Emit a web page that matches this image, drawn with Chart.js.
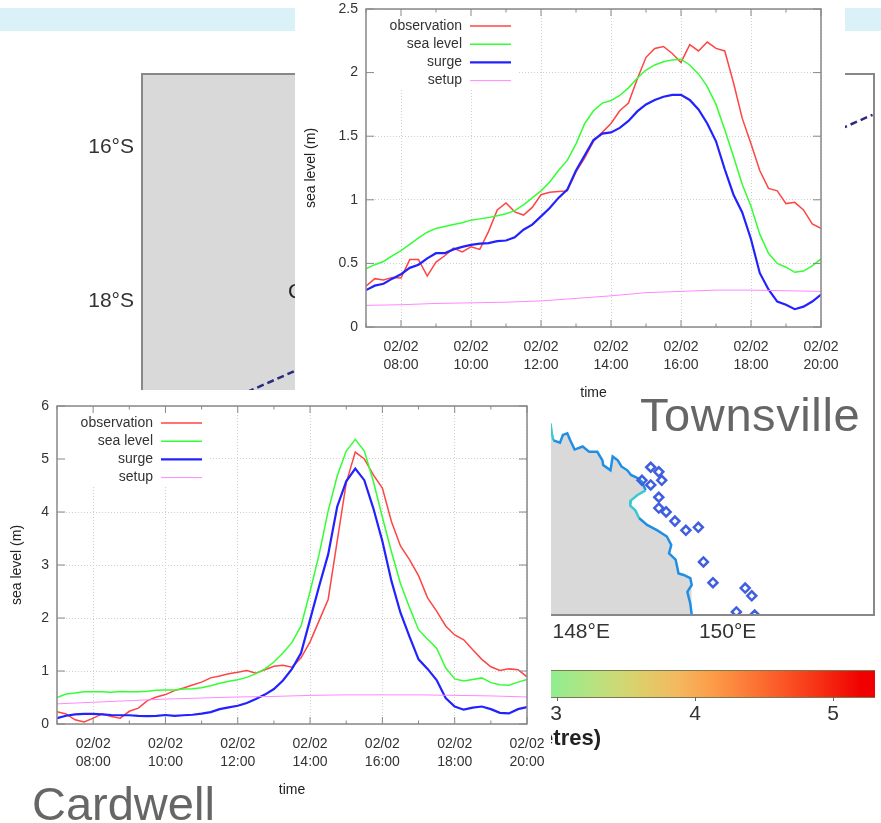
<!DOCTYPE html>
<html>
<head>
<meta charset="utf-8">
<title>Storm surge at Townsville and Cardwell</title>
<script src="https://cdn.jsdelivr.net/npm/chart.js@4"></script>
<style>
  html, body { margin: 0; padding: 0; background: #fff; }
  body { position: relative; width: 881px; height: 823px; overflow: hidden; font-family: "Liberation Sans", sans-serif; }
  canvas { position: absolute; display: block; }
  #mapChart { left: 0; top: 0; z-index: 1; }
  #townsvilleChart { left: 295px; top: 0; z-index: 3; background: #fff; }
  #cardwellChart { left: 0; top: 390px; z-index: 3; background: #fff; }
  .band { position: absolute; left: 0; top: 8px; width: 881px; height: 23px; background: #d9f1f7; z-index: 0; }
  .colorbar { position: absolute; left: 142px; top: 670px; width: 733px; height: 26px; border-top: 1px solid #7a7a50; border-bottom: 1px solid #7a7a50; z-index: 1;
    background: linear-gradient(to right, #90ee90 55.8%, #c8dc78 64.1%, #e0cc68 68.6%, #f4b860 73.1%, #fc9c48 77.8%, #fc6c30 84.6%, #f83818 91.4%, #f00000 98.2%); }
  .cbtick { position: absolute; top: 697px; width: 1px; height: 4px; background: #666; z-index: 1; }
  .cblabel { position: absolute; top: 700px; width: 30px; margin-left: -15px; text-align: center; font-size: 21px; line-height: 25px; color: #333; z-index: 1; }
  .cbtitle { position: absolute; right: 280px; top: 725px; font-size: 22px; line-height: 26px; font-weight: bold; color: #222; white-space: nowrap; z-index: 1; }
  .maplabel { position: absolute; left: 288px; top: 278px; font-size: 21px; line-height: 25px; color: #222; z-index: 2; }
  .place { position: absolute; font-size: 47px; line-height: 47px; color: #666; white-space: nowrap; z-index: 4; }
</style>
</head>
<body>
<div class="band"></div>
<canvas id="mapChart" width="881" height="823"></canvas>
<div class="maplabel">Cyclone</div>
<div class="colorbar"></div>
<div class="cbtick" style="left:557px"></div>
<div class="cbtick" style="left:695px"></div>
<div class="cbtick" style="left:833px"></div>
<div class="cblabel" style="left:556px">3</div>
<div class="cblabel" style="left:695px">4</div>
<div class="cblabel" style="left:833px">5</div>
<div class="cbtitle">Storm tide (metres)</div>
<canvas id="townsvilleChart" width="550" height="402"></canvas>
<canvas id="cardwellChart" width="551" height="433"></canvas>
<div class="place" style="left:640px;top:391px;letter-spacing:.6px">Townsville</div>
<div class="place" style="left:32px;top:780px">Cardwell</div>

<script>
// quarter hourly times, 07:00 to 20:00
const hours = [
  7, 7.25, 7.5, 7.75, 8, 8.25, 8.5, 8.75, 9, 9.25, 9.5, 9.75, 10, 10.25, 10.5, 10.75,
  11, 11.25, 11.5, 11.75, 12, 12.25, 12.5, 12.75, 13, 13.25, 13.5, 13.75, 14, 14.25, 14.5, 14.75,
  15, 15.25, 15.5, 15.75, 16, 16.25, 16.5, 16.75, 17, 17.25, 17.5, 17.75, 18, 18.25, 18.5, 18.75,
  19, 19.25, 19.5, 19.75, 20
];
const setupHours = [7, 8, 9, 10, 11, 12, 13, 14, 15, 16, 17, 18, 19, 20];
const seriesNames = ['observation', 'sea level', 'surge', 'setup'];

// Townsville
const tsvObservation = [
  .32, .38, .37, .39, .385, .53, .53, .40, .51, .56, .62, .59, .63, .61, .75, .92,
  .975, .905, .88, .94, 1.04, 1.06, 1.065, 1.07, 1.22, 1.33, 1.46, 1.53, 1.60, 1.70, 1.76, 1.95,
  2.12, 2.19, 2.205, 2.15, 2.08, 2.22, 2.17, 2.24, 2.19, 2.17, 1.92, 1.64, 1.44, 1.23, 1.09, 1.07,
  .97, .98, .92, .81, .775
];
const tsvSeaLevel = [
  .457, .49, .515, .56, .60, .65, .70, .745, .775, .79, .805, .82, .84, .85, .86, .875,
  .89, .915, .96, 1.015, 1.07, 1.14, 1.23, 1.31, 1.44, 1.60, 1.70, 1.76, 1.78, 1.82, 1.88, 1.955,
  2.02, 2.06, 2.085, 2.10, 2.105, 2.06, 1.99, 1.89, 1.75, 1.55, 1.34, 1.12, .95, .73, .58, .50,
  .47, .43, .44, .48, .535
];
const tsvSurge = [
  .29, .325, .34, .38, .415, .465, .49, .54, .58, .58, .61, .63, .645, .655, .66, .675,
  .68, .705, .765, .805, .87, .935, 1.015, 1.08, 1.23, 1.35, 1.47, 1.52, 1.53, 1.565, 1.62, 1.695,
  1.75, 1.785, 1.81, 1.825, 1.825, 1.785, 1.71, 1.60, 1.46, 1.24, 1.04, .90, .69, .425, .295, .20,
  .175, .14, .16, .20, .255
];
const tsvSetup = [.17, .175, .185, .19, .195, .205, .225, .245, .27, .28, .29, .29, .285, .28];

// Cardwell
const cdwObservation = [
  .23, .19, .08, .04, .11, .19, .14, .11, .24, .30, .44, .51, .555, .63, .68, .735,
  .79, .87, .905, .95, .975, 1.01, .96, 1.025, 1.09, 1.11, 1.07, 1.25, 1.55, 1.95, 2.35, 3.45,
  4.55, 5.13, 5.00, 4.70, 4.45, 3.82, 3.36, 3.10, 2.80, 2.38, 2.13, 1.85, 1.68, 1.59, 1.40, 1.22,
  1.08, 1.01, 1.04, 1.025, .89
];
const cdwSeaLevel = [
  .50, .565, .585, .61, .61, .61, .60, .615, .61, .61, .62, .635, .64, .64, .66, .665,
  .685, .72, .77, .805, .835, .88, .95, 1.04, 1.17, 1.34, 1.54, 1.85, 2.50, 3.20, 4.02, 4.68,
  5.15, 5.37, 5.15, 4.58, 3.90, 3.25, 2.65, 2.20, 1.78, 1.60, 1.43, 1.06, .85, .81, .84, .87,
  .78, .74, .73, .79, .84
];
const cdwSurge = [
  .11, .155, .18, .19, .19, .18, .17, .165, .165, .155, .15, .155, .17, .155, .165, .175,
  .195, .225, .28, .315, .345, .395, .47, .555, .66, .82, 1.04, 1.34, 1.97, 2.60, 3.20, 4.10,
  4.58, 4.82, 4.60, 4.07, 3.45, 2.70, 2.10, 1.65, 1.22, 1.04, .83, .49, .33, .27, .31, .33,
  .28, .21, .20, .28, .32
];
const cdwSetup = [.38, .41, .44, .47, .49, .51, .52, .54, .55, .55, .55, .54, .53, .51];

// map, in degrees
const mapLonLabels = [144, 146, 148, 150];
const inlandLon = [142, 146.9, 147.3];
const inlandLat = [-15.05, -15.05, -19];
const coastLon = [
  147.58, 147.60, 147.62, 147.71, 147.75, 147.81, 147.85, 147.91, 148.02, 148.11, 148.22, 148.29, 148.30, 148.40,
  148.43, 148.50, 148.55, 148.63, 148.68, 148.77, 148.83, 148.88, 148.77, 148.68, 148.67, 148.74, 148.79,
  148.90, 149.04, 149.17, 149.23, 149.20, 149.29, 149.33, 149.40, 149.49, 149.51, 149.45, 149.49, 149.51
];
const coastLat = [
  -19.59, -19.72, -19.81, -19.84, -19.74, -19.72, -19.81, -19.93, -19.89, -19.96, -19.96, -20.07, -20.13, -20.20,
  -20.02, -20.07, -20.15, -20.20, -20.26, -20.30, -20.35, -20.46, -20.52, -20.59, -20.66, -20.72, -20.82,
  -20.91, -20.98, -21.06, -21.17, -21.28, -21.36, -21.54, -21.56, -21.60, -21.69, -21.78, -21.93, -22.08
];
const islandLon = [149.60, 149.43, 149.28, 149.16, 149.06, 149.06, 149.67, 149.80, 150.24, 150.33, 150.12, 150.37, 148.95, 149.06, 149.10, 148.95, 148.83];
const islandLat = [-20.94, -20.98, -20.86, -20.74, -20.69, -20.55, -21.39, -21.66, -21.73, -21.83, -22.04, -22.08, -20.16, -20.22, -20.33, -20.39, -20.33];
const trackLon = [143.3, 151.98];
const trackLat = [-19.24, -15.58];

function pairs(xs, ys) {
  return xs.map((x, i) => ({ x: x, y: ys[i] }));
}

// box round the plot
const framePlugin = {
  id: 'frame',
  afterDraw(chart, args, opts) {
    const a = chart.chartArea, c = chart.ctx;
    c.save();
    c.strokeStyle = opts.color;
    c.lineWidth = opts.width;
    c.strokeRect(a.left, a.top, a.right - a.left, a.bottom - a.top);
    c.restore();
  }
};

// gnuplot style ticks, pointing in, on all four sides
const inTicksPlugin = {
  id: 'inTicks',
  afterDatasetsDraw(chart, args, opts) {
    if (!opts.on) return;
    const a = chart.chartArea, c = chart.ctx;
    c.save();
    c.strokeStyle = '#888';
    c.lineWidth = 1;
    c.beginPath();
    chart.scales.x.ticks.forEach(t => {
      const px = chart.scales.x.getPixelForValue(t.value);
      const len = t.value % 2 === 0 ? 7 : 3.5;
      c.moveTo(px, a.top); c.lineTo(px, a.top + len);
      c.moveTo(px, a.bottom); c.lineTo(px, a.bottom - len);
    });
    chart.scales.y.ticks.forEach(t => {
      const py = chart.scales.y.getPixelForValue(t.value);
      c.moveTo(a.left, py); c.lineTo(a.left + 8, py);
      c.moveTo(a.right, py); c.lineTo(a.right - 8, py);
    });
    c.stroke();
    c.restore();
  }
};

// legend with the text on the left of the line sample, sits on a white box
const keyPlugin = {
  id: 'key',
  beforeDatasetsDraw(chart, args, opts) {
    if (!opts.on) return;
    const a = chart.chartArea, c = chart.ctx;
    c.save();
    c.fillStyle = '#fff';
    c.fillRect(a.left + 1, a.top + 1, 151, 78);
    c.font = '14px "Liberation Sans"';
    c.textAlign = 'right';
    c.textBaseline = 'middle';
    chart.data.datasets.forEach((ds, i) => {
      const y = a.top + 17 + i * 18.2;
      c.fillStyle = '#333';
      c.fillText(ds.label, a.left + 96, y);
      c.strokeStyle = ds.borderColor;
      c.lineWidth = ds.borderWidth;
      c.beginPath();
      c.moveTo(a.left + 104, y);
      c.lineTo(a.left + 145, y);
      c.stroke();
    });
    c.restore();
  }
};

function surgeChart(id, series, yMax, yStep, pad, titlePad) {
  const styles = [['#ff4444', 1.5], ['#33ff33', 1.5], ['#2222ff', 2.2], ['#ff88ff', 1]];
  return new Chart(document.getElementById(id), {
    type: 'scatter',
    data: {
      datasets: seriesNames.map((name, i) => ({
        label: name,
        data: pairs(i === 3 ? setupHours : hours, series[i]),
        showLine: true,
        borderColor: styles[i][0],
        borderWidth: styles[i][1],
        pointRadius: 0,
        tension: 0,
        order: 4 - i
      }))
    },
    options: {
      responsive: false,
      animation: false,
      layout: { padding: pad },
      plugins: {
        legend: { display: false },
        tooltip: { enabled: false },
        frame: { color: '#888', width: 1.5 },
        inTicks: { on: true },
        key: { on: true }
      },
      scales: {
        x: {
          type: 'linear',
          min: 7,
          max: 20,
          afterFit(s) { s.height = pad.xHeight; s.paddingLeft = 0; s.paddingRight = 0; },
          border: { display: false, dash: [1, 2] },
          grid: {
            drawTicks: false,
            color: ctx => (ctx.tick && ctx.tick.value % 2 === 0 ? '#d0d0d0' : 'transparent')
          },
          ticks: {
            stepSize: 1,
            autoSkip: false,
            maxRotation: 0,
            padding: 11,
            color: '#333',
            font: { family: '"Liberation Sans"', size: 14, lineHeight: 1.29 },
            callback: v => (v % 2 === 0 ? ['02/02', String(v).padStart(2, '0') + ':00'] : '')
          },
          title: {
            display: true,
            text: 'time',
            color: '#222',
            padding: { top: 0, bottom: 0 },
            font: { family: '"Liberation Sans"', size: 14 }
          }
        },
        y: {
          min: 0,
          max: yMax,
          afterFit(s) { s.width = pad.yWidth; s.paddingTop = 0; s.paddingBottom = 0; },
          border: { display: false, dash: [1, 2] },
          grid: { drawTicks: false, color: '#d0d0d0' },
          ticks: {
            stepSize: yStep,
            padding: 8,
            color: '#333',
            font: { family: '"Liberation Sans"', size: 14 },
            callback: v => String(v)
          },
          title: {
            display: true,
            text: 'sea level (m)',
            color: '#222',
            padding: { top: titlePad, bottom: 0 },
            font: { family: '"Liberation Sans"', size: 14 }
          }
        }
      }
    },
    plugins: [framePlugin, inTicksPlugin, keyPlugin]
  });
}

// the map sits under both charts
new Chart(document.getElementById('mapChart'), {
  type: 'scatter',
  data: {
    datasets: [
      {
        data: pairs(inlandLon.concat(coastLon), inlandLat.concat(coastLat)),
        showLine: true,
        borderWidth: 0,
        pointRadius: 0,
        fill: 'start',
        backgroundColor: '#d9d9d9',
        order: 4
      },
      {
        data: pairs(coastLon, coastLat),
        showLine: true,
        borderColor: '#1f8fe4',
        borderWidth: 2.5,
        pointRadius: 0,
        segment: {
          borderColor: ctx => (ctx.p0DataIndex < 2 || (ctx.p0DataIndex >= 21 && ctx.p0DataIndex <= 25) ? '#39c9d0' : undefined)
        },
        order: 3
      },
      {
        data: pairs(islandLon, islandLat),
        showLine: false,
        pointStyle: 'rectRot',
        pointRadius: 4.5,
        borderWidth: 2.5,
        borderColor: '#3f5ee0',
        backgroundColor: 'rgba(255,255,255,0)',
        order: 2
      },
      {
        data: pairs(trackLon, trackLat),
        showLine: true,
        borderColor: '#2a2a80',
        borderWidth: 2.5,
        borderDash: [7, 4],
        pointRadius: 0,
        order: 1
      }
    ]
  },
  options: {
    responsive: false,
    animation: false,
    layout: { padding: { left: 0, top: 74, right: 6, bottom: 0 } },
    plugins: {
      legend: { display: false },
      tooltip: { enabled: false },
      frame: { color: '#888', width: 2 },
      inTicks: { on: false },
      key: { on: false }
    },
    scales: {
      x: {
        type: 'linear',
        min: 142,
        max: 152,
        afterFit(s) { s.height = 208; s.paddingLeft = 0; s.paddingRight = 0; },
        border: { display: false },
        grid: { display: false, drawTicks: false },
        ticks: {
          stepSize: 2,
          includeBounds: false,
          padding: 5,
          color: '#333',
          font: { family: '"Liberation Sans"', size: 21 },
          callback: v => (mapLonLabels.includes(v) ? v + '°E' : '')
        }
      },
      y: {
        min: -22.08,
        max: -15.05,
        afterFit(s) { s.width = 142; s.paddingTop = 0; s.paddingBottom = 0; },
        border: { display: false },
        grid: { display: false, drawTicks: false },
        ticks: {
          stepSize: 2,
          includeBounds: false,
          padding: 8,
          color: '#333',
          font: { family: '"Liberation Sans"', size: 21 },
          callback: v => -v + '°S'
        }
      }
    }
  },
  plugins: [framePlugin, inTicksPlugin, keyPlugin]
});

surgeChart('townsvilleChart', [tsvObservation, tsvSeaLevel, tsvSurge, tsvSetup], 2.5, 0.5,
  { left: 0, top: 9, right: 24, bottom: 0, xHeight: 75, yWidth: 71 }, 8);
surgeChart('cardwellChart', [cdwObservation, cdwSeaLevel, cdwSurge, cdwSetup], 6, 1,
  { left: 0, top: 16, right: 24, bottom: 24, xHeight: 75, yWidth: 57 }, 9);
</script>
</body>
</html>
